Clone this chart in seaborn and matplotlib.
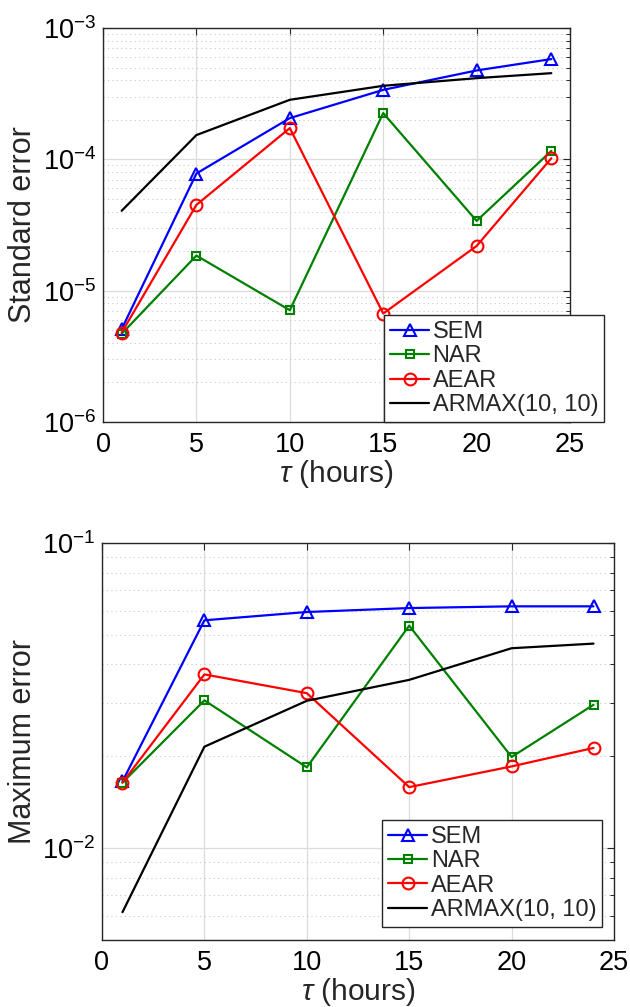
import matplotlib
matplotlib.use("Agg")
import matplotlib.pyplot as plt
import matplotlib.ticker as mticker
import seaborn as sns
import pandas as pd
import numpy as np

sns.set_style("white")
plt.rcParams['font.family'] = ['Liberation Sans', 'DejaVu Sans']
plt.rcParams['mathtext.fontset'] = 'custom'
plt.rcParams['mathtext.rm'] = 'Liberation Sans'
plt.rcParams['mathtext.it'] = 'Liberation Sans:italic'
plt.rcParams['axes.unicode_minus'] = False

tau = [1, 5, 10, 15, 20, 24]
series_names = ["SEM", "NAR", "AEAR", "ARMAX(10, 10)"]

std_sem = [5.1e-6, 7.8e-5, 2.06e-4, 3.38e-4, 4.75e-4, 5.8e-4]
std_nar = [4.7e-6, 1.85e-5, 7.1e-6, 2.25e-4, 3.4e-5, 1.16e-4]
std_aear = [4.8e-6, 4.5e-5, 1.73e-4, 6.7e-6, 2.19e-5, 1.02e-4]
std_armax = [4.06e-5, 1.53e-4, 2.84e-4, 3.63e-4, 4.15e-4, 4.53e-4]

max_sem = [0.01655, 0.0558, 0.0594, 0.0612, 0.0620, 0.0620]
max_nar = [0.0164, 0.0305, 0.0184, 0.0536, 0.0199, 0.0295]
max_aear = [0.0164, 0.0371, 0.0322, 0.01585, 0.01853, 0.0213]
max_armax = [0.00617, 0.0215, 0.0304, 0.0356, 0.0452, 0.0468]

colors = {"SEM": (0, 0, 1), "NAR": (0, 0.5, 0), "AEAR": (1, 0, 0), "ARMAX(10, 10)": (0, 0, 0)}
markers = {"SEM": "^", "NAR": "s", "AEAR": "o", "ARMAX(10, 10)": None}
msizes = {"SEM": 9, "NAR": 6, "AEAR": 8.5, "ARMAX(10, 10)": 0}

fig = plt.figure(figsize=(6.3, 10.07), dpi=100)
ax1 = fig.add_axes([0.1635, 0.5809, 0.7413, 0.3913])
ax2 = fig.add_axes([0.1619, 0.0665, 0.8127, 0.3943])

def draw(ax, vals, ylim, ylabel, leg_anchor):
    for name, v in zip(series_names, vals):
        df = pd.DataFrame({"tau": tau, "val": v})
        kw = dict(color=colors[name], linewidth=1.6, label=name, ax=ax)
        if markers[name]:
            kw.update(marker=markers[name], markersize=msizes[name],
                      markerfacecolor='none', markeredgecolor=colors[name],
                      markeredgewidth=1.5)
        sns.lineplot(data=df, x="tau", y="val", **kw)
    ax.set_yscale('log')
    ax.set_xlim(0, 25)
    ax.set_ylim(*ylim)
    ax.xaxis.set_major_locator(mticker.MultipleLocator(5))
    ax.yaxis.set_major_locator(mticker.LogLocator(base=10, numticks=10))
    ax.yaxis.set_minor_locator(mticker.LogLocator(base=10, subs=np.arange(2, 10), numticks=20))
    ax.yaxis.set_minor_formatter(mticker.NullFormatter())
    ax.yaxis.set_major_formatter(mticker.FuncFormatter(
        lambda y, p: r'$\mathregular{10^{%d}}$' % int(round(np.log10(y)))))
    ax.grid(True, which='major', color='#dcdcdc', linewidth=0.9, linestyle='-')
    ax.grid(True, which='minor', axis='y', color='#c8c8c8', linewidth=0.8, linestyle=(0, (1, 3)))
    ax.set_axisbelow(True)
    ax.tick_params(which='both', direction='in', top=True, right=True, colors='#262626',
                   labelcolor='black', labelsize=19.5, pad=7)
    ax.tick_params(axis='y', which='major', pad=5)
    ax.tick_params(which='major', length=5, width=0.8)
    ax.tick_params(which='minor', length=3, width=0.7)
    for s in ax.spines.values():
        s.set_color('#262626')
        s.set_linewidth(1.0)
        s.set_visible(True)
    ax.set_xlabel(r'$\tau$ (hours)', fontsize=21.5, labelpad=0)
    ax.set_ylabel(ylabel, fontsize=22, labelpad=3)
    leg = ax.legend(loc='lower right', bbox_to_anchor=leg_anchor, borderaxespad=0,
                    fontsize=17, frameon=True, fancybox=False, framealpha=1,
                    edgecolor='#262626', handlelength=1.65, handletextpad=0.15,
                    labelspacing=0.1, borderpad=0.25)
    leg.get_frame().set_linewidth(1.0)

draw(ax1, [std_sem, std_nar, std_aear, std_armax], (1e-6, 1e-3), 'Standard error', (1.073, 0.0))
draw(ax2, [max_sem, max_nar, max_aear, max_armax], (5e-3, 1e-1), 'Maximum error', (0.977, 0.033))

fig.savefig("out.png", dpi=100)
